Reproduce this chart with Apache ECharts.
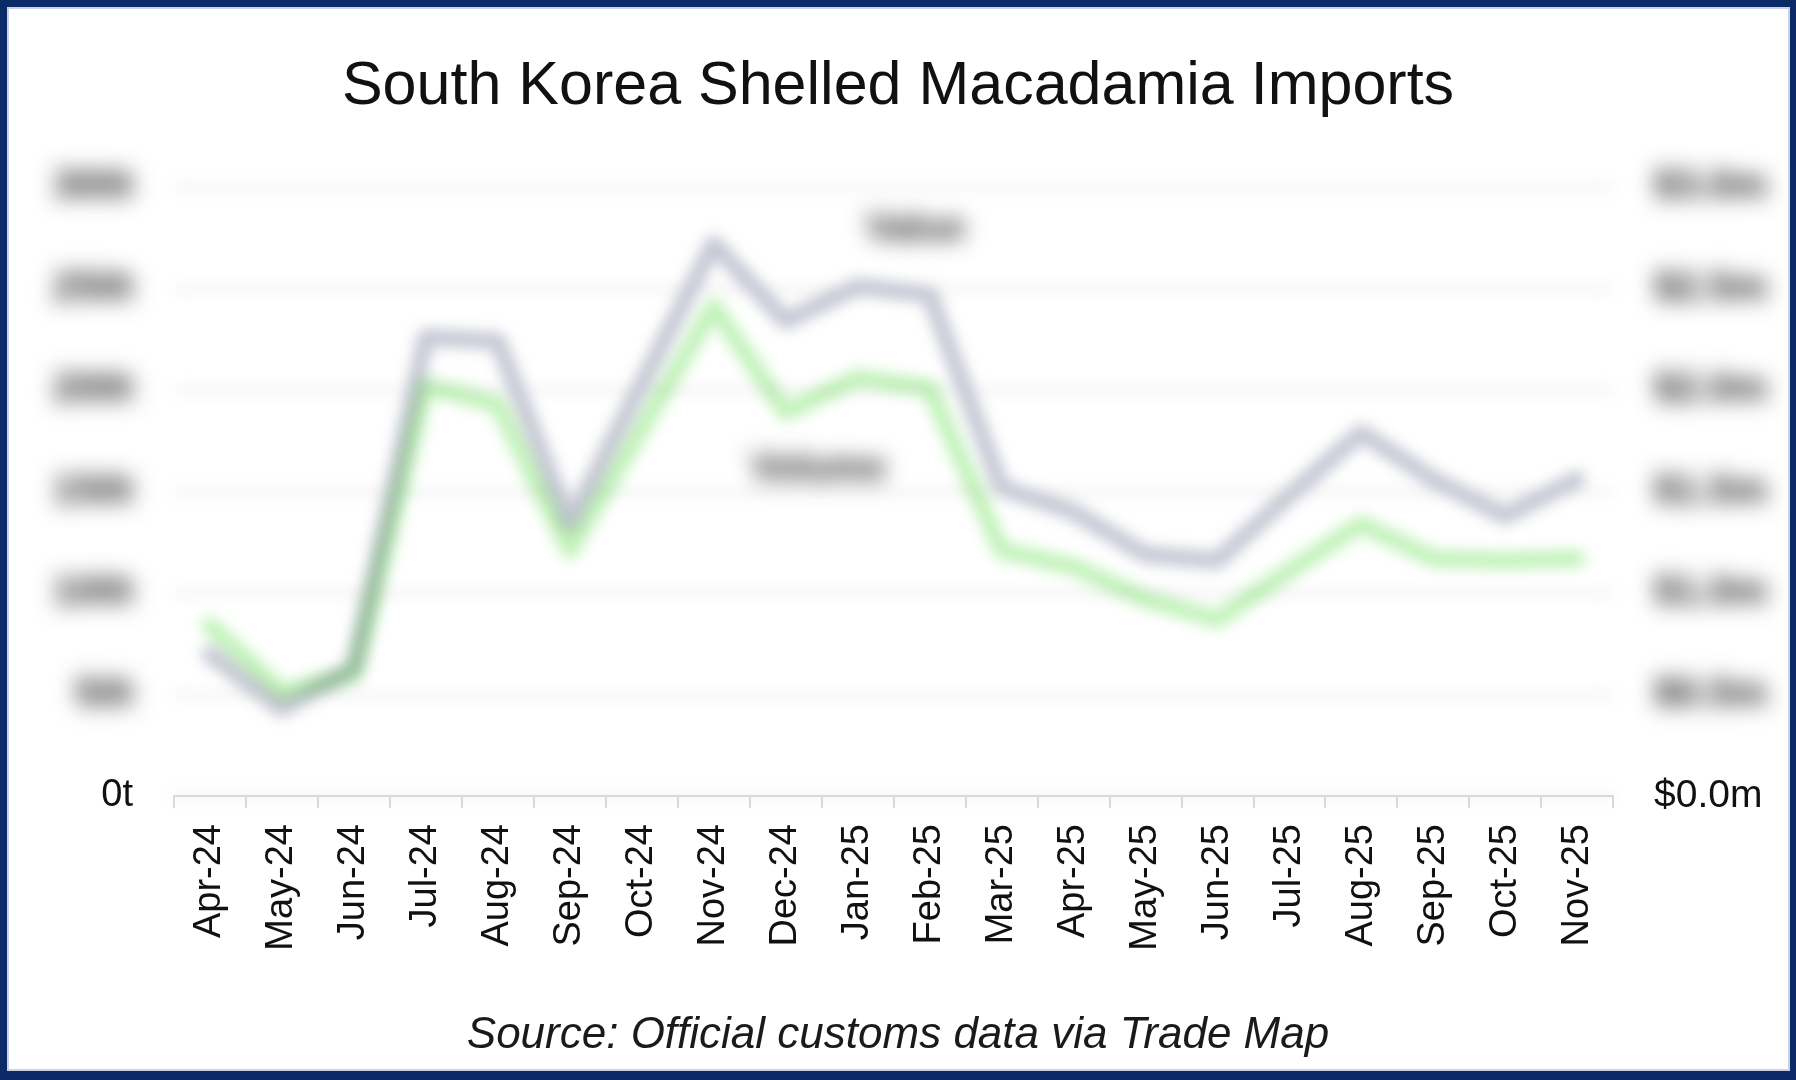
<!DOCTYPE html>
<html><head><meta charset="utf-8">
<script src="https://cdn.jsdelivr.net/npm/echarts@6/dist/echarts.min.js"></script>
<style>
html,body{margin:0;padding:0;background:#fff;}
#wrap{position:relative;width:1796px;height:1080px;overflow:hidden;background:#fff;}
.layer{position:absolute;left:0;top:0;width:1796px;height:1080px;}
#lg{filter:blur(7px);}
#lv{filter:blur(7px);mix-blend-mode:multiply;}
#lt{filter:blur(11px);}
#frame{position:absolute;left:0;top:0;width:1796px;height:1080px;box-sizing:border-box;border:7px solid #0c2a66;border-bottom-width:9px;border-right-width:6px;box-shadow:inset 0 0 0 2px #c9d3e3;pointer-events:none;}
</style></head><body>
<div id="wrap">
<div class="layer" id="lg"></div>
<div class="layer" id="lv"></div>
<div class="layer" id="lt"></div>
<div class="layer" id="lc"></div>
<div id="frame"></div>
</div>
<script>
// ---- data ----
const categories = ['Apr-24','May-24','Jun-24','Jul-24','Aug-24','Sep-24','Oct-24','Nov-24','Dec-24','Jan-25','Feb-25','Mar-25','Apr-25','May-25','Jun-25','Jul-25','Aug-25','Sep-25','Oct-25','Nov-25'];
const volumeTonnes = [84, 51, 60, 202, 193, 121, 181, 241, 189, 206, 201, 121, 113, 97, 87, 111, 134, 117, 116, 117];
const valueMillions = [0.70, 0.43, 0.63, 2.26, 2.24, 1.34, 2.03, 2.72, 2.34, 2.51, 2.47, 1.52, 1.40, 1.19, 1.16, 1.48, 1.79, 1.56, 1.38, 1.56];
const volumeTicks = ['0t','50t','100t','150t','200t','250t','300t'];
const valueTicks = ['$0.0m','$0.5m','$1.0m','$1.5m','$2.0m','$2.5m','$3.0m'];
const seriesNames = ['Value','Volume'];
const titleText = 'South Korea Shelled Macadamia Imports';
const sourceText = 'Source: Official customs data via Trade Map';
const VOL_STEP = 50, VAL_STEP = 0.5;

// ---- layout / style ----
const FONT = 'Liberation Sans';
const GRID = {left:174, right:183, top:187, bottom:284, containLabel:false};
const VOL_MAX = VOL_STEP * (volumeTicks.length - 1);
const VAL_MAX = VAL_STEP * (valueTicks.length - 1);

function xAxisHidden(){
  return {type:'category', data:categories, boundaryGap:true, show:false};
}
function yAxes(leftCfg, rightCfg){
  const common = {type:'value', min:0, axisLine:{show:false}, axisTick:{show:false}};
  return [
    Object.assign({}, common, {position:'left', max:VOL_MAX, interval:VOL_STEP}, leftCfg),
    Object.assign({}, common, {position:'right', max:VAL_MAX, interval:VAL_STEP}, rightCfg)
  ];
}
const hiddenLbl = {show:false};
const noSplit = {show:false};

// grey value line + gridlines (blurred)
const cg = echarts.init(document.getElementById('lg'));
cg.setOption({
  animation:false,
  grid:GRID,
  xAxis:xAxisHidden(),
  yAxis:yAxes(
    {axisLabel:hiddenLbl, splitLine:{show:true, lineStyle:{color:'#e8e8e8', width:4}}},
    {axisLabel:hiddenLbl, splitLine:noSplit}
  ),
  series:[{
    name:seriesNames[0], type:'line', yAxisIndex:1, data:valueMillions,
    showSymbol:false, smooth:false,
    lineStyle:{color:'#c4c7d3', width:17, cap:'round', join:'round'}
  }]
});

// green volume line (blurred, multiplied)
const cv = echarts.init(document.getElementById('lv'));
cv.setOption({
  animation:false,
  grid:GRID,
  xAxis:xAxisHidden(),
  yAxis:yAxes({axisLabel:hiddenLbl, splitLine:noSplit},{axisLabel:hiddenLbl, splitLine:noSplit}),
  series:[{
    name:seriesNames[1], type:'line', yAxisIndex:0, data:volumeTonnes,
    showSymbol:false, smooth:false,
    lineStyle:{color:'#c0f2b8', width:17, cap:'round', join:'round'}
  }]
});

// blurred labels
const lblStyle = {fontFamily:FONT, fontSize:40, fontWeight:'bold', color:'#2a2a2a'};
function labelData(values, idx, offset){
  return values.map((v,i)=> i===idx ? {value:v, label:{show:true, position:'inside', offset:offset,
    formatter:'{a}', fontFamily:FONT, fontSize:38, fontWeight:'bold', color:'#2a2a2a'}} : v);
}
const ct = echarts.init(document.getElementById('lt'));
ct.setOption({
  animation:false,
  grid:GRID,
  xAxis:xAxisHidden(),
  yAxis:yAxes(
    {splitLine:noSplit, axisLabel:Object.assign({margin:41, formatter:v=> v===0 ? '' : volumeTicks[Math.round(v/VOL_STEP)]}, lblStyle)},
    {splitLine:noSplit, axisLabel:Object.assign({margin:41, formatter:v=> v===0 ? '' : valueTicks[Math.round(v/VAL_STEP)]}, lblStyle)}
  ),
  series:[
    {name:seriesNames[0], type:'line', yAxisIndex:1, data:labelData(valueMillions, 9, [58,-57]),
     symbol:'circle', symbolSize:1, itemStyle:{color:'rgba(0,0,0,0)'}, lineStyle:{opacity:0}, label:{show:false}},
    {name:seriesNames[1], type:'line', yAxisIndex:0, data:labelData(volumeTonnes, 8, [33,57]),
     symbol:'circle', symbolSize:1, itemStyle:{color:'rgba(0,0,0,0)'}, lineStyle:{opacity:0}, label:{show:false}}
  ]
});

// crisp layer
const cc = echarts.init(document.getElementById('lc'));
cc.setOption({
  animation:false,
  title:[
    {text:titleText, left:'center', top:52, textStyle:{fontFamily:FONT, fontSize:61, fontWeight:'normal', color:'#111'}},
    {text:sourceText, left:'center', top:1009, textStyle:{fontFamily:FONT, fontSize:44, fontStyle:'italic', fontWeight:'normal', color:'#1a1a1a'}}
  ],
  grid:GRID,
  xAxis:{
    type:'category', data:categories, boundaryGap:true,
    axisLine:{show:true, lineStyle:{color:'#d9d9d9', width:2}},
    axisTick:{show:true, length:12, interval:0, lineStyle:{color:'#d9d9d9', width:2}},
    axisLabel:{rotate:90, interval:0, margin:28, fontFamily:FONT, fontSize:38, color:'#111'}
  },
  yAxis:yAxes(
    {splitLine:noSplit, axisLabel:{margin:41, fontFamily:FONT, fontSize:38, color:'#111', formatter:v=> v===0 ? volumeTicks[0] : ''}},
    {splitLine:noSplit, axisLabel:{margin:41, fontFamily:FONT, fontSize:39, color:'#111', formatter:v=> v===0 ? valueTicks[0] : ''}}
  ),
  series:[]
});
</script>
</body></html>
